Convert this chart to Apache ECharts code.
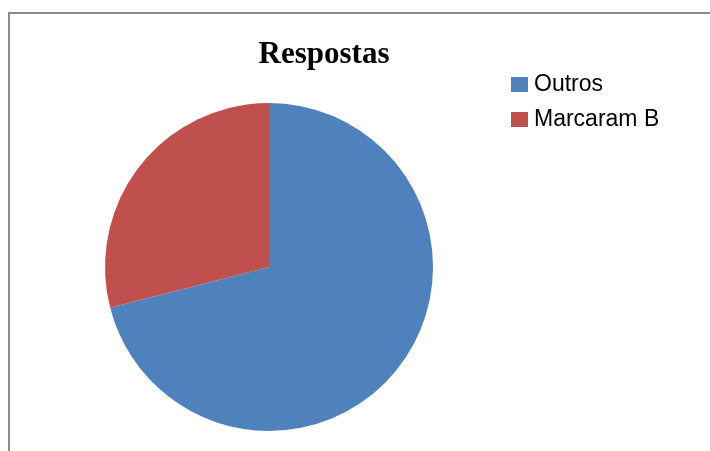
<!DOCTYPE html>
<html>
<head>
<meta charset="utf-8">
<script src="https://cdn.jsdelivr.net/npm/echarts@6/dist/echarts.min.js"></script>
<style>
html,body{margin:0;padding:0;background:#fff;}
#c{width:710px;height:451px;}
</style>
</head>
<body>
<div id="c"></div>
<script>
const categories = ["Outros", "Marcaram B"];
const values = [71, 29];
const colors = ["#4F81BD", "#C0504D"];

const chart = echarts.init(document.getElementById('c'), null, {renderer: 'canvas'});
chart.setOption({
  animation: false,
  backgroundColor: '#ffffff',
  title: {
    text: 'Respostas',
    left: 319,
    textAlign: 'center',
    top: 34,
    textStyle: {fontFamily: 'Liberation Serif', fontWeight: 'bold', fontSize: 31, color: '#000'}
  },
  legend: {
    orient: 'vertical',
    left: 506,
    top: 68,
    itemWidth: 17,
    itemHeight: 15,
    itemGap: 12,
    icon: 'rect',
    data: categories,
    textStyle: {fontFamily: 'Liberation Sans', fontSize: 23, color: '#000', padding: [0,0,0,1]}
  },
  graphic: [{
    type: 'rect',
    shape: {x: 9, y: 13, width: 800, height: 500},
    style: {fill: 'none', stroke: '#8a8a8a', lineWidth: 2},
    silent: true
  }],
  series: [{
    type: 'pie',
    center: [269, 267],
    radius: 164,
    startAngle: 90,
    clockwise: true,
    label: {show: false},
    labelLine: {show: false},
    emphasis: {disabled: true},
    itemStyle: {borderWidth: 0},
    data: categories.map((n, i) => ({name: n, value: values[i], itemStyle: {color: colors[i]}}))
  }]
});
</script>
</body>
</html>
